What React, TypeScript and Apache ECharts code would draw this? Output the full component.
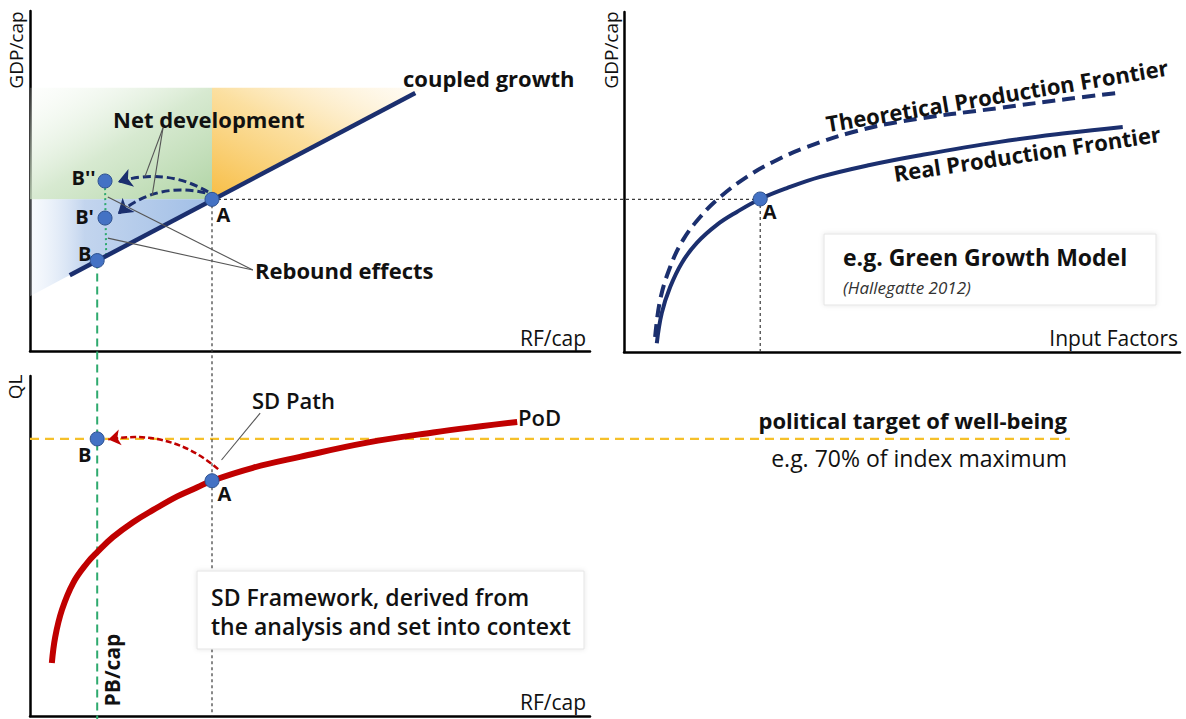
import React, { useEffect, useRef } from "react";
import * as echarts from "echarts";

// ---------- colours ----------
const NAVY = "#1b2f6e";
const RED = "#c00000";
const DOT = "#4472c4";
const DOT_EDGE = "#2f528f";
const GREEN_LINE = "#2eaa6e";
const YELLOW = "#f5c02a";
const DOTTED = "#3a3a3a";
const FONT = "'Open Sans', 'Noto Sans', sans-serif";

// ---------- top-left panel: GDP/cap vs RF/cap ----------
const coupledGrowth = [[7.1, 22.3], [68.8, 75.9]];
const pointA1 = [32.5, 44.6];
const pointB = [12, 26.6];
const pointB1 = [13.4, 39.1];
const pointB2 = [13.4, 50.0];
const shadeGreen = [[0, 44.6], [32.5, 44.6], [32.5, 77.4], [0, 77.4]];
const shadeOrange = [[32.5, 44.6], [32.5, 77.4], [70.5, 77.4]];
const shadeBlue = [[0, 44.6], [32.5, 44.6], [0, 16.1]];
const arrowToB2 = [[31.8, 46.8], [15.7, 49.7]];
const arrowToB1 = [[31.3, 46.5], [15.7, 40.3]];
const reboundDotted = [[13.4, 47.9], [13.6, 28.5]];
const netDevLeaders = [
  [[23.75, 65.6], [20.5, 51.2]],
  [[23.75, 65.6], [21.8, 45.6]],
];
const reboundLeaders = [
  [[39.8, 23.8], [13.9, 45.3]],
  [[39.8, 23.8], [13.9, 33.2]],
];
const guideAHorizontal = [[32.5, 44.6], [130.4, 44.6]];
const guideAVertical = [[32.5, 44.6], [32.5, -107.4]];
const guideBVertical = [[12, 26.6], [12, -108.2]];

// ---------- top-right panel: GDP/cap vs Input Factors ----------
const realFrontier = [
  [5.9, 2.6], [6.8, 11.5], [8.3, 19.1], [10.4, 26.2], [13.1, 32.1], [16.7, 37.4],
  [20.3, 41.2], [24.5, 45.0], [29.3, 48.2], [35.3, 51.5], [44.2, 55.0], [53.0, 57.8],
  [67.6, 61.8], [79.7, 64.4], [89.7, 66.2],
];
const theoreticalFrontier = [
  [5.6, 4.4], [6.5, 15.3], [8.3, 25.0], [10.6, 32.9], [13.7, 39.7], [17.3, 45.6],
  [22.1, 51.5], [26.8, 55.9], [32.9, 60.3], [41.2, 64.7], [50.2, 67.9], [67.6, 71.8],
  [79.7, 74.4], [88.8, 76.2],
];
const pointA2 = [24.5, 45.0];
const guideA2Vertical = [[24.5, 45.0], [24.5, 0]];

// ---------- bottom panel: QL vs RF/cap ----------
const podCurve = [
  [3.9, 15.6], [4.5, 23.2], [5.7, 31.2], [7.7, 39.1], [10.2, 45.0], [12.0, 48.2],
  [14.8, 52.6], [18.4, 57.0], [22.0, 60.6], [26.3, 64.6], [29.8, 67.2], [32.5, 69.2],
  [39.8, 73.0], [48.2, 76.2], [60.2, 80.4], [72.0, 83.4], [80.9, 85.3], [87.0, 86.5],
];
const pointA3 = [32.5, 69.2];
const pointB3 = [12, 81.5];
const wellBeingTarget = [[0, 81.5], [185.7, 81.5]];
const sdPathArrow = [[33.6, 72.6], [14.0, 81.3]];
const sdPathLeader = [[34.2, 75.3], [41.1, 89.1]];

const hiddenAxisBits = {
  axisTick: { show: false },
  axisLabel: { show: false },
  splitLine: { show: false },
};
const axisLine = { show: true, onZero: false, lineStyle: { color: "#000", width: 2.5 } };

function dot(value: number[], text: string, pos: number[]) {
  return {
    value,
    label: {
      show: true,
      formatter: text,
      position: pos,
      align: "center",
      verticalAlign: "middle",
      fontFamily: FONT,
      fontWeight: "bold",
      fontSize: 20,
      color: "#111",
    },
  };
}

function straight(name: string, data: number[][], xi: number, color: string, width: number, type: any, z = 3) {
  return {
    name,
    type: "line",
    xAxisIndex: xi,
    yAxisIndex: xi,
    data,
    symbol: "none",
    clip: false,
    silent: true,
    z,
    lineStyle: { color, width, type },
  };
}

function txt(text: string, x: number, y: number, opts: any = {}) {
  return {
    type: "text",
    x,
    y,
    rotation: opts.rotation || 0,
    z: 110,
    style: {
      text,
      fill: opts.color || "#111",
      fontFamily: FONT,
      fontSize: opts.size || 20,
      fontWeight: opts.weight || "normal",
      fontStyle: opts.italic ? "italic" : "normal",
      align: opts.align || "left",
      verticalAlign: "middle",
    },
  };
}

export default function App() {
  const ref = useRef<HTMLDivElement>(null);

  useEffect(() => {
    if (!ref.current) return;
    const chart = echarts.init(ref.current, undefined, { renderer: "svg" });

    const shades = [shadeGreen, shadeOrange, shadeBlue];
    const shadeFills = [
      new echarts.graphic.LinearGradient(1, 1, 0, 0, [
        { offset: 0, color: "rgba(172,210,160,0.95)" },
        { offset: 0.5, color: "rgba(205,228,197,0.8)" },
        { offset: 1, color: "rgba(245,250,243,0.2)" },
      ]),
      new echarts.graphic.LinearGradient(0, 1, 1, 0, [
        { offset: 0, color: "rgba(247,189,68,1)" },
        { offset: 0.5, color: "rgba(251,220,150,0.9)" },
        { offset: 1, color: "rgba(255,247,232,0.4)" },
      ]),
      new echarts.graphic.LinearGradient(1, 0, 0, 0, [
        { offset: 0, color: "rgba(160,190,230,1)" },
        { offset: 0.7, color: "rgba(188,208,236,0.9)" },
        { offset: 1, color: "rgba(232,240,250,0.3)" },
      ]),
    ];

    const baseGraphic: any[] = [
      // boxes
      {
        id: "boxGGM", type: "rect", z: 100,
        shape: { x: 824, y: 234, width: 332, height: 71 },
        style: { fill: "#fff", stroke: "#e4e4e4", lineWidth: 1, shadowBlur: 5, shadowColor: "rgba(0,0,0,0.10)" },
      },
      {
        id: "boxSD", type: "rect", z: 100,
        shape: { x: 197, y: 571, width: 387, height: 78 },
        style: { fill: "#fff", stroke: "#e4e4e4", lineWidth: 1, shadowBlur: 5, shadowColor: "rgba(0,0,0,0.10)" },
      },
      // axis titles
      txt("GDP/cap", 16, 50, { rotation: Math.PI / 2, size: 19, align: "center" }),
      txt("RF/cap", 586, 338, { size: 21, align: "right" }),
      txt("GDP/cap", 611, 50, { rotation: Math.PI / 2, size: 19, align: "center" }),
      txt("Input Factors", 1178, 338, { size: 21, align: "right" }),
      txt("QL", 15, 387, { rotation: Math.PI / 2, size: 19, align: "center" }),
      txt("RF/cap", 586, 702, { size: 21, align: "right" }),
      // top-left annotations
      txt("coupled growth", 403, 78, { size: 22, weight: "bold" }),
      txt("Net development", 113, 119, { size: 22, weight: "bold" }),
      txt("Rebound effects", 255, 270, { size: 22, weight: "bold" }),
      // top-right annotations
      txt("Theoretical Production Frontier", 997, 95, { size: 22, weight: "bold", align: "center", rotation: 0.165 }),
      txt("Real Production Frontier", 1027, 153, { size: 22, weight: "bold", align: "center", rotation: 0.15 }),
      txt("e.g. Green Growth Model", 843, 257, { size: 23, weight: "bold" }),
      txt("(Hallegatte 2012)", 843, 287, { size: 17, italic: true, color: "#333" }),
      // bottom annotations
      txt("SD Path", 252, 400, { size: 22, weight: 600 }),
      txt("PoD", 518, 417, { size: 22, weight: 600 }),
      txt("political target of well-being", 1067, 420, { size: 22, weight: "bold", align: "right" }),
      txt("e.g. 70% of index maximum", 1067, 458, { size: 23, align: "right" }),
      txt("SD Framework, derived from", 211, 597, { size: 23, weight: 600 }),
      txt("the analysis and set into context", 211, 626, { size: 23, weight: 600 }),
      txt("PB/cap", 112, 670, { rotation: Math.PI / 2, size: 21, weight: "bold", align: "center" }),
    ];

    const curve = (name: string, data: number[][], xi: number, color: string, width: number, type: any) => ({
      name,
      type: "line", xAxisIndex: xi, yAxisIndex: xi, data,
      symbol: "none", smooth: 0.4, z: 3,
      lineStyle: { color, width, type, cap: "butt" },
    });

    const option: any = {
      animation: false,
      backgroundColor: "#ffffff",
      grid: [
        { left: 30, top: 11, width: 560, height: 340 },
        { left: 624, top: 12, width: 556, height: 340 },
        { left: 30, top: 376, width: 560, height: 340 },
      ],
      xAxis: [0, 1, 2].map((i) => ({
        type: "value", gridIndex: i, min: 0, max: 100, axisLine, ...hiddenAxisBits,
      })),
      yAxis: [0, 1, 2].map((i) => ({
        type: "value", gridIndex: i, min: 0, max: 100, axisLine, ...hiddenAxisBits,
      })),
      series: [
        {
          type: "custom",
          xAxisIndex: 0,
          yAxisIndex: 0,
          silent: true,
          z: 1,
          data: shades.map((s, i) => [s[0][0], s[0][1], i]),
          renderItem: (params: any, api: any) => {
            const poly = shades[params.dataIndex];
            return {
              type: "polygon",
              shape: { points: poly.map((p) => api.coord(p)) },
              style: { fill: shadeFills[params.dataIndex] },
            };
          },
        },
        // guide lines
        straight("guideAV", guideAVertical, 0, DOTTED, 1.2, [3, 3], 2),
        straight("guideBV", guideBVertical, 0, GREEN_LINE, 2, [8, 5], 2),
        straight("reboundDotted", reboundDotted, 0, GREEN_LINE, 2, [2, 3], 2),
        straight("guideA2V", guideA2Vertical, 1, DOTTED, 1.2, [3, 3], 2),
        // leaders
        ...netDevLeaders.map((d, i) => straight("nd" + i, d, 0, "#555", 1.1, "solid", 4)),
        ...reboundLeaders.map((d, i) => straight("rb" + i, d, 0, "#555", 1.1, "solid", 4)),
        straight("sdLeader", sdPathLeader, 2, "#555", 1.1, "solid", 4),
        // main curves
        straight("coupled growth", coupledGrowth, 0, NAVY, 4.5, "solid", 3),
        curve("Real Production Frontier", realFrontier, 1, NAVY, 4, "solid"),
        curve("Theoretical Production Frontier", theoreticalFrontier, 1, NAVY, 4, [13, 7]),
        curve("PoD", podCurve, 2, RED, 6, "solid"),
        // arrows
        {
          type: "lines", coordinateSystem: "cartesian2d", xAxisIndex: 0, yAxisIndex: 0,
          symbol: ["none", "arrow"], symbolSize: 14, z: 4,
          lineStyle: { color: NAVY, width: 3, type: [8, 4], opacity: 1 },
          data: [
            { coords: arrowToB2, lineStyle: { curveness: -0.22 } },
            { coords: arrowToB1, lineStyle: { curveness: -0.25 } },
          ],
        },
        {
          type: "lines", coordinateSystem: "cartesian2d", xAxisIndex: 2, yAxisIndex: 2,
          symbol: ["none", "arrow"], symbolSize: 12, z: 4,
          lineStyle: { color: RED, width: 2.5, type: [6, 3], opacity: 1 },
          data: [{ coords: sdPathArrow, lineStyle: { curveness: -0.24 } }],
        },
        // points
        {
          type: "scatter", xAxisIndex: 0, yAxisIndex: 0, symbolSize: 14, z: 6,
          itemStyle: { color: DOT, borderColor: DOT_EDGE, borderWidth: 1, opacity: 1 },
          data: [
            dot(pointA1, "A", [19, 23]),
            dot(pointB, "B", [-5, 0]),
            dot(pointB1, "B'", [-13, 6]),
            dot(pointB2, "B''", [-14, 4]),
          ],
        },
        {
          type: "scatter", xAxisIndex: 1, yAxisIndex: 1, symbolSize: 14, z: 6,
          itemStyle: { color: DOT, borderColor: DOT_EDGE, borderWidth: 1, opacity: 1 },
          data: [dot(pointA2, "A", [17, 20])],
        },
        {
          type: "scatter", xAxisIndex: 2, yAxisIndex: 2, symbolSize: 14, z: 6,
          itemStyle: { color: DOT, borderColor: DOT_EDGE, borderWidth: 1, opacity: 1 },
          data: [dot(pointA3, "A", [20, 20]), dot(pointB3, "B", [-5, 23])],
        },
      ],
      graphic: baseGraphic,
    };

    chart.setOption(option);

    // cross-panel horizontal guides, placed through the axes' own scales
    const h1 = chart.convertToPixel({ gridIndex: 0 } as any, guideAHorizontal[0]) as number[];
    const h2 = chart.convertToPixel({ gridIndex: 0 } as any, guideAHorizontal[1]) as number[];
    const t1 = chart.convertToPixel({ gridIndex: 2 } as any, wellBeingTarget[0]) as number[];
    const t2 = chart.convertToPixel({ gridIndex: 2 } as any, wellBeingTarget[1]) as number[];
    chart.setOption({
      graphic: [
        ...baseGraphic,
        {
          id: "guideAH", type: "line", z: 1, silent: true,
          shape: { x1: h1[0], y1: h1[1], x2: h2[0], y2: h2[1] },
          style: { stroke: DOTTED, lineWidth: 1.2, lineDash: [3, 3] },
        },
        {
          id: "target", type: "line", z: 1, silent: true,
          shape: { x1: t1[0], y1: t1[1], x2: t2[0], y2: t2[1] },
          style: { stroke: YELLOW, lineWidth: 2.2, lineDash: [9, 6] },
        },
      ],
    });

    return () => chart.dispose();
  }, []);

  return (
    <div
      ref={ref}
      style={{ position: "absolute", left: 0, top: 0, width: 1186, height: 719, background: "#fff" }}
    />
  );
}
